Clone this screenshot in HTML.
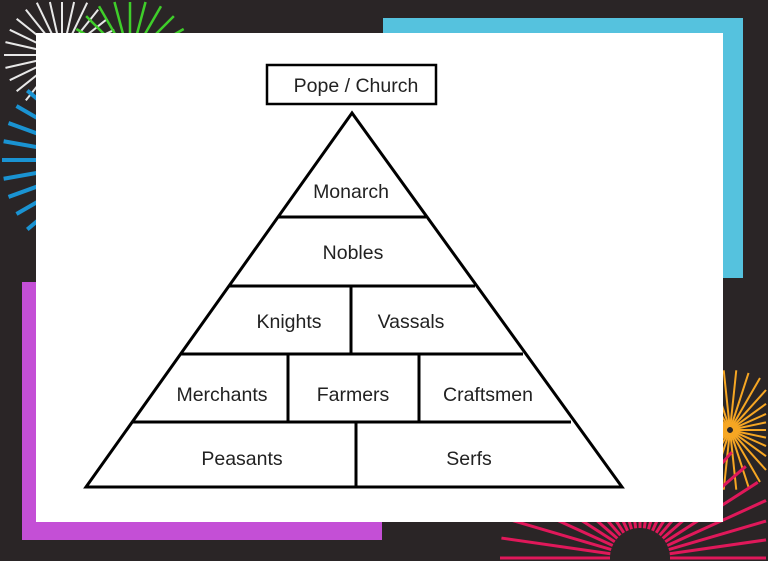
<!DOCTYPE html>
<html style="overflow:hidden"><head><style>
html,body{margin:0;width:768px;height:561px;overflow:hidden}
body{background:#2a2526;font-family:"Liberation Sans",sans-serif}
svg{display:block}
</style></head><body>
<svg width="768" height="561" viewBox="0 0 768 561" style="position:absolute;left:0;top:0;overflow:hidden">
<g id="fw"></g>
<rect x="383" y="18" width="360" height="260" fill="#55c2de"/>
<rect x="22" y="282" width="360" height="258" fill="#c44fd6"/>
<rect x="36" y="33" width="687" height="489" fill="#fff"/>
<g fill="none" stroke="#000" stroke-width="3">
<rect x="267" y="65" width="169" height="39" stroke-width="2.5"/>
<polygon points="352,113 86,487 622,487"/>
<line x1="278" y1="217" x2="426" y2="217"/>
<line x1="229" y1="286" x2="475" y2="286"/>
<line x1="181" y1="354" x2="523" y2="354"/>
<line x1="133" y1="422" x2="571" y2="422"/>
<line x1="351" y1="286" x2="351" y2="354"/>
<line x1="288" y1="354" x2="288" y2="422"/>
<line x1="419" y1="354" x2="419" y2="422"/>
<line x1="356" y1="422" x2="356" y2="487"/>
</g>
<g font-size="19.5" fill="#222" text-anchor="middle">
<text x="356" y="92">Pope / Church</text>
<text x="351" y="198">Monarch</text>
<text x="353" y="259">Nobles</text>
<text x="289" y="328">Knights</text>
<text x="411" y="328">Vassals</text>
<text x="222" y="401">Merchants</text>
<text x="353" y="401">Farmers</text>
<text x="488" y="401">Craftsmen</text>
<text x="242" y="465">Peasants</text>
<text x="469" y="465">Serfs</text>
</g>
</svg>
<script>
var s=document.querySelector('#fw'),ns='http://www.w3.org/2000/svg';
function lim(cx,cy,dx,dy,r){var t=r;if(dx>0)t=Math.min(t,(766-cx)/dx);if(dx<0)t=Math.min(t,(cx-2)/-dx);if(dy>0)t=Math.min(t,(559-cy)/dy);if(dy<0)t=Math.min(t,(cy-2)/-dy);return t;}
function burst(cx,cy,r0,r1,n,col,w){for(var i=0;i<n;i++){var a=i*2*Math.PI/n,dx=Math.cos(a),dy=Math.sin(a);var e=lim(cx,cy,dx,dy,r1);if(e<=r0)continue;var l=document.createElementNS(ns,'line');l.setAttribute('x1',cx+r0*dx);l.setAttribute('y1',cy+r0*dy);l.setAttribute('x2',cx+e*dx);l.setAttribute('y2',cy+e*dy);l.setAttribute('stroke',col);l.setAttribute('stroke-width',w);s.appendChild(l);}}
burst(62,55,15,58,28,'#e8e8e8',2);
burst(130,60,20,62,24,'#3fce2a',2.5);
burst(110,160,55,108,36,'#1a93d2',4);
burst(730,430,3,60,30,'#f6a623',2);
burst(640,558,30,140,44,'#e0185a',3);
</script>
</body></html>
